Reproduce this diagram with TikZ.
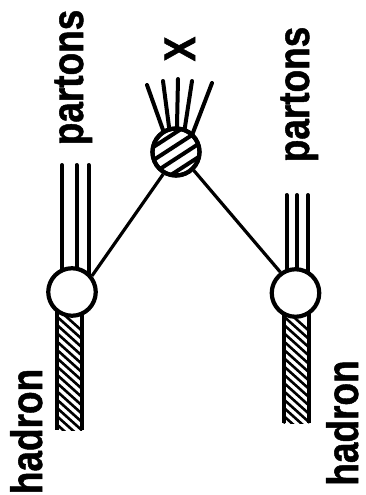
\documentclass[tikz,border=0pt]{standalone}
\usepackage{fontspec}
\setmainfont{Liberation Sans}
\newfontfamily\lblfont{Liberation Sans Bold}[FakeBold=1.2]
\usetikzlibrary{calc}
\begin{document}
\begin{tikzpicture}[x=1pt,y=-1pt,
  blob/.style={circle,draw,line width=4.2pt,fill=white,inner sep=0pt,minimum size=47.5pt},
  parton/.style={line width=4pt,line cap=round},
  jet/.style={line width=4pt,line cap=round},
  link/.style={line width=3.2pt},
  hatch/.style={line width=2.6pt},
  wall/.style={line width=4pt},
  lbl/.style={rotate=90,anchor=base,inner sep=0pt,font=\fontsize{44}{44}\selectfont\lblfont}
]
\useasboundingbox (0,0) rectangle (366,495);

% parton lines (drawn first, the vertex circles cover their lower ends)
\foreach \x in {62,76.5,88.5} \draw[parton] (\x,165) -- (\x,290);
\foreach \x in {286.5,297,308} \draw[parton] (\x,195) -- (\x,290);

% outgoing jet of the produced state X
\draw[jet] (147,85) -- (166.2,139);
\draw[jet] (163,81) -- (170.2,136);
\draw[jet] (178,79) -- (176.8,135);
\draw[jet] (192,81) -- (183.6,136);
\draw[jet] (212,83) -- (190.4,139.4);

% hadron lines: hatched bands
\begin{scope}
  \clip (57,300) rectangle (82,430);
  \foreach \k in {0,...,16} \draw[hatch] (50,302+8.3*\k) -- (90,302+8.3*\k+36);
\end{scope}
\draw[wall] (57,300) -- (57,430);
\draw[wall] (82,300) -- (82,430);
\begin{scope}
  \clip (283.5,300) rectangle (309,423);
  \foreach \k in {0,...,16} \draw[hatch] (277,302+8.3*\k) -- (317,302+8.3*\k+36);
\end{scope}
\draw[wall] (283.5,300) -- (283.5,423);
\draw[wall] (309,300) -- (309,423);

% vertices
\node[blob] (L) at (72,292) {};
\node[blob] (R) at (295.5,293) {};
\node[blob,minimum size=47pt] (B) at (176,152) {};
\begin{scope}
  \clip (176,152) circle[radius=22];
  \foreach \d in {-16.5,-5.5,5.5,16.5}
    \draw[line width=4pt] ($(176,152)+(-33:-40)+(57:\d)$) -- ($(176,152)+(-33:40)+(57:\d)$);
\end{scope}
\node[blob,fill=none,minimum size=47pt] at (176,152) {};

% connectors between the hadron vertices and X
\draw[link] (L.39) -- (B.240);
\draw[link] (B.314) -- (R.126);

% labels
\node[lbl] (tp1) at (83,77.5) {\scalebox{0.84}[1]{partons}};
\node[lbl] (tp2) at (309,94.5) {\scalebox{0.84}[1]{partons}};
\node[lbl] (th1) at (42,431.5) {\scalebox{0.84}[1]{hadron}};
\node[lbl] (th2) at (358,423) {\scalebox{0.84}[1]{hadron}};
\node[lbl] (tx) at (195,49) {\scalebox{0.84}[1]{X}};
\end{tikzpicture}
\end{document}
